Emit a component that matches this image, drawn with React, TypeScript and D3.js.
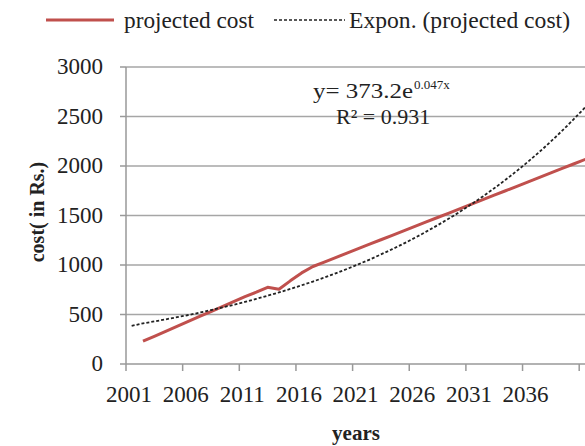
import React from "react";
import * as d3 from "d3";

const years: number[] = [];
for (let y = 2001; y <= 2045; y++) years.push(y);

const costYears = [2002,2003,2004,2005,2006,2007,2008,2009,2010,2011,2012,2013,2014,2015,2016,2017,2018,2019,2020,2021,2022,2023,2024,2025,2026,2027,2028,2029,2030,2031,2032,2033,2034,2035,2036,2037,2038,2039,2040,2041,2042];
const costValues = [230,280,330,380,430,480,530,580,630,680,725,775,755,840,920,985,1030,1075,1120,1165,1210,1255,1300,1345,1390,1435,1480,1525,1570,1615,1660,1705,1750,1795,1840,1885,1930,1975,2020,2065,2110];

const trendYears = [2001,2002,2003,2004,2005,2006,2007,2008,2009,2010,2011,2012,2013,2014,2015,2016,2017,2018,2019,2020,2021,2022,2023,2024,2025,2026,2027,2028,2029,2030,2031,2032,2033,2034,2035,2036,2037,2038,2039,2040,2041,2042];
const trendValues = [385,410,430,451,473,495,519,545,571,598,627,658,690,723,758,795,833,874,916,960,1007,1055,1107,1160,1216,1275,1337,1402,1469,1540,1615,1693,1775,1861,1951,2045,2144,2248,2357,2471,2590,2716];

const yTicks = [0, 500, 1000, 1500, 2000, 2500, 3000];
const xTickYears = [2001, 2006, 2011, 2016, 2021, 2026, 2031, 2036, 2041];
const xLabelYears = [2001, 2006, 2011, 2016, 2021, 2026, 2031, 2036];

export default function App() {
  const W = 585, H = 446;
  const x = d3.scaleBand<number>().domain(years).range([126, 126 + years.length * 11.33]);
  const y = d3.scaleLinear().domain([0, 3000]).range([364, 67]);
  const cx = (yr: number) => (x(yr) as number) + x.bandwidth() / 2;
  const right = 640;
  const font = "'Liberation Serif', 'Times New Roman', serif";

  const costLine = d3.line<number>().x((_, i) => cx(costYears[i])).y((v) => y(v));
  const trendLine = d3.line<number>().x((_, i) => cx(trendYears[i])).y((v) => y(v)).curve(d3.curveMonotoneX);

  return (
    <svg width={W} height={H} style={{ position: "absolute", left: 0, top: 0, background: "#fff" }} fontFamily={font}>
      <rect x={0} y={0} width={W} height={H} fill="#fff" />
      {/* legend */}
      <line x1={46} x2={114} y1={20} y2={20} stroke="#c0504d" strokeWidth={3} />
      <text x={124} y={28} fontSize={23} fill="#222" textLength={130} lengthAdjust="spacingAndGlyphs">projected cost</text>
      <line x1={274} x2={345} y1={20} y2={20} stroke="#222" strokeWidth={1.5} strokeDasharray="3,2" />
      <text x={349} y={28} fontSize={23} fill="#222" textLength={221} lengthAdjust="spacingAndGlyphs">Expon. (projected cost)</text>

      {/* gridlines */}
      {yTicks.filter((t) => t > 0).map((t) => (
        <line key={t} x1={126} x2={right} y1={y(t)} y2={y(t)} stroke="#a6a6a6" strokeWidth={1.5} />
      ))}
      {/* axes */}
      <line x1={126} x2={126} y1={y(3000)} y2={y(0)} stroke="#999" strokeWidth={1.5} />
      <line x1={126} x2={right} y1={y(0)} y2={y(0)} stroke="#999" strokeWidth={1.5} />
      {yTicks.map((t) => (
        <g key={t}>
          <line x1={120} x2={126} y1={y(t)} y2={y(t)} stroke="#999" strokeWidth={1.5} />
          <text x={103} y={y(t) + 7} fontSize={23} textAnchor="end" fill="#222">{t}</text>
        </g>
      ))}
      {xTickYears.map((yr) => (
        <line key={yr} x1={x(yr) as number} x2={x(yr) as number} y1={y(0)} y2={y(0) + 7} stroke="#999" strokeWidth={1.5} />
      ))}
      {xLabelYears.map((yr) => (
        <text key={yr} x={(x(yr) as number) + 3} y={402} fontSize={23} textAnchor="middle" fill="#222">{yr}</text>
      ))}

      {/* series */}
      <path d={costLine(costValues) || ""} fill="none" stroke="#c0504d" strokeWidth={3} strokeLinejoin="round" />
      <path d={trendLine(trendValues) || ""} fill="none" stroke="#222" strokeWidth={1.8} strokeDasharray="3,2" />

      {/* equation */}
      <text x={313} y={98} fontSize={22} fill="#222">
        <tspan textLength={100} lengthAdjust="spacingAndGlyphs">y= 373.2e</tspan>
        <tspan dy={-9} fontSize={13} dx={1}>0.047x</tspan>
      </text>
      <text x={336} y={124} fontSize={22} fill="#222">R² = 0.931</text>

      {/* axis titles */}
      <text transform="translate(44,212) rotate(-90)" fontSize={20} fontWeight="bold" textAnchor="middle" fill="#222">cost( in Rs.)</text>
      <text x={356} y={440} fontSize={21} fontWeight="bold" textAnchor="middle" fill="#222">years</text>
    </svg>
  );
}
